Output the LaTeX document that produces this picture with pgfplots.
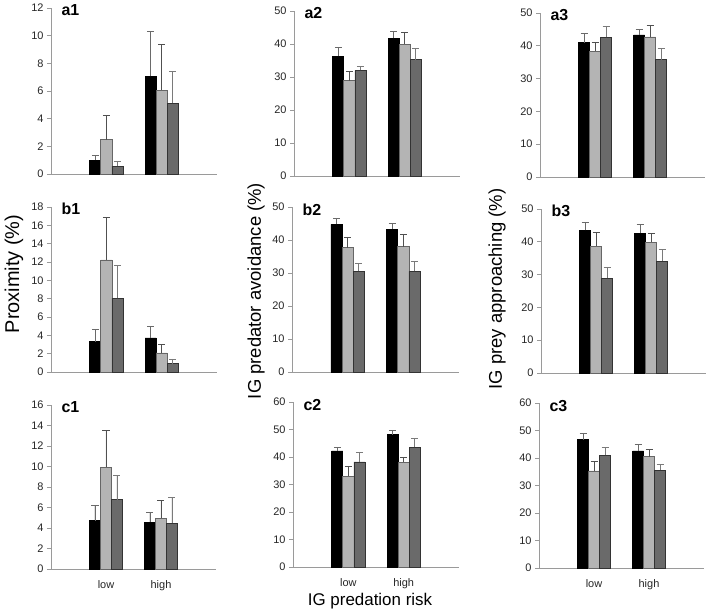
\documentclass[border=0pt]{standalone}
\usepackage{fontspec}
\setmainfont{Liberation Sans}
\usepackage{pgfplots}
\pgfplotsset{compat=1.18}
\definecolor{clight}{HTML}{B4B4B4}
\definecolor{cdark}{HTML}{6A6A6A}
\definecolor{axgray}{HTML}{9A9A9A}
\definecolor{errA}{HTML}{6A6A6A}
\definecolor{errB}{HTML}{505050}
\definecolor{errC}{HTML}{7A7A7A}
\tikzset{plab/.style={font=\fontsize{16}{18}\selectfont\bfseries, anchor=base west, xshift=7bp, yshift=-8bp}}
\pgfplotsset{
  panel/.style={
    scale only axis, anchor=south west,
    axis lines*=left, xmin=0, xmax=3, ymin=0,
    xtick=\empty,
    axis line style={draw=axgray, line width=0.9bp},
    tick align=outside, major tick length=4bp,
    ytick style={draw=axgray, line width=0.8bp},
    x tick style={draw=none},
    tick label style={font=\fontsize{11}{13}\selectfont, text=black!85},
    xticklabel style={yshift=-4bp},
    /pgf/number format/assume math mode=true,
    clip=false,
  },
  sA/.style={ybar, bar width=0.2, bar shift=0pt, fill=black, draw=black, line width=0.7bp,
    error bars/.cd, y dir=plus, y explicit,
    error bar style={draw=errA, line width=0.9bp},
    error mark options={draw=errA, mark size=3.5bp, line width=0.9bp, rotate=90}},
  sB/.style={ybar, bar width=0.2, bar shift=0pt, fill=clight, draw=black!60, line width=0.7bp,
    error bars/.cd, y dir=plus, y explicit,
    error bar style={draw=errB, line width=0.9bp},
    error mark options={draw=errB, mark size=3.5bp, line width=0.9bp, rotate=90}},
  sC/.style={ybar, bar width=0.2, bar shift=0pt, fill=cdark, draw=black!80, line width=0.7bp,
    error bars/.cd, y dir=plus, y explicit,
    error bar style={draw=errC, line width=0.9bp},
    error mark options={draw=errC, mark size=3.5bp, line width=0.9bp, rotate=90}},
}
\begin{document}
\begin{tikzpicture}
\path[use as bounding box] (0,0) rectangle (708bp,612bp);
% ---------- a1
\begin{axis}[panel, at={(51bp,438bp)}, width=166bp, height=166bp, ymax=12, ytick={0,2,...,12}]
\addplot[sA] coordinates {(0.8,1.00) +- (0,0.33) (1.8,7.05) +- (0,3.26)};
\addplot[sB] coordinates {(1.0,2.49) +- (0,1.74) (2.0,6.04) +- (0,3.31)};
\addplot[sC] coordinates {(1.2,0.56) +- (0,0.33) (2.2,5.10) +- (0,2.32)};
\node[plab] at (rel axis cs:0,1) {a1};
\end{axis}
% ---------- a2
\begin{axis}[panel, at={(294bp,436bp)}, width=166bp, height=165bp, ymax=50, ytick={0,10,...,50}]
\addplot[sA] coordinates {(0.8,36.3) +- (0,2.7) (1.8,41.7) +- (0,2.1)};
\addplot[sB] coordinates {(1.0,28.9) +- (0,2.8) (2.0,39.9) +- (0,3.5)};
\addplot[sC] coordinates {(1.2,32.0) +- (0,1.2) (2.2,35.3) +- (0,3.3)};
\node[plab] at (rel axis cs:0,1) {a2};
\end{axis}
% ---------- a3
\begin{axis}[panel, at={(540bp,435bp)}, width=165bp, height=164bp, ymax=50, ytick={0,10,...,50}]
\addplot[sA] coordinates {(0.8,40.9) +- (0,2.9) (1.8,43.3) +- (0,1.7)};
\addplot[sB] coordinates {(1.0,38.3) +- (0,2.8) (2.0,42.7) +- (0,3.6)};
\addplot[sC] coordinates {(1.2,42.6) +- (0,3.2) (2.2,35.8) +- (0,3.3)};
\node[plab] at (rel axis cs:0,1) {a3};
\end{axis}
% ---------- b1
\begin{axis}[panel, at={(51bp,240bp)}, width=166bp, height=165bp, ymax=18, ytick={0,2,...,18}]
\addplot[sA] coordinates {(0.8,3.29) +- (0,1.35) (1.8,3.72) +- (0,1.21)};
\addplot[sB] coordinates {(1.0,12.23) +- (0,4.60) (2.0,2.08) +- (0,0.88)};
\addplot[sC] coordinates {(1.2,8.03) +- (0,3.54) (2.2,0.91) +- (0,0.51)};
\node[plab] at (rel axis cs:0,1) {b1};
\end{axis}
% ---------- b2
\begin{axis}[panel, at={(292bp,240bp)}, width=167bp, height=165bp, ymax=50, ytick={0,10,...,50}]
\addplot[sA] coordinates {(0.8,44.7) +- (0,1.9) (1.8,43.3) +- (0,1.8)};
\addplot[sB] coordinates {(1.0,37.7) +- (0,3.2) (2.0,38.0) +- (0,3.6)};
\addplot[sC] coordinates {(1.2,30.5) +- (0,2.3) (2.2,30.5) +- (0,2.9)};
\node[plab] at (rel axis cs:0,1) {b2};
\end{axis}
% ---------- b3
\begin{axis}[panel, at={(541bp,239bp)}, width=165bp, height=164bp, ymax=50, ytick={0,10,...,50}]
\addplot[sA] coordinates {(0.8,43.5) +- (0,2.5) (1.8,42.6) +- (0,2.7)};
\addplot[sB] coordinates {(1.0,38.7) +- (0,4.1) (2.0,39.8) +- (0,2.8)};
\addplot[sC] coordinates {(1.2,28.9) +- (0,3.3) (2.2,34.1) +- (0,3.5)};
\node[plab] at (rel axis cs:0,1) {b3};
\end{axis}
% ---------- c1
\begin{axis}[panel, at={(51bp,43bp)}, width=165bp, height=164bp, ymax=16, ytick={0,2,...,16},
  xtick={1,2}, xticklabels={low,high}]
\addplot[sA] coordinates {(0.8,4.73) +- (0,1.46) (1.8,4.57) +- (0,0.97)};
\addplot[sB] coordinates {(1.0,9.94) +- (0,3.60) (2.0,4.96) +- (0,1.74)};
\addplot[sC] coordinates {(1.2,6.77) +- (0,2.33) (2.2,4.47) +- (0,2.49)};
\node[plab] at (rel axis cs:0,1) {c1};
\end{axis}
% ---------- c2
\begin{axis}[panel, at={(293bp,45bp)}, width=166bp, height=165bp, ymax=60, ytick={0,10,...,60},
  xtick={1,2}, xticklabels={low,high}]
\addplot[sA] coordinates {(0.8,42.2) +- (0,1.4) (1.8,48.1) +- (0,1.4)};
\addplot[sB] coordinates {(1.0,33.0) +- (0,3.7) (2.0,38.1) +- (0,1.9)};
\addplot[sC] coordinates {(1.2,38.2) +- (0,3.3) (2.2,43.6) +- (0,3.2)};
\node[plab] at (rel axis cs:0,1) {c2};
\end{axis}
% ---------- c3
\begin{axis}[panel, at={(539bp,44bp)}, width=165bp, height=165bp, ymax=60, ytick={0,10,...,60},
  xtick={1,2}, xticklabels={low,high}]
\addplot[sA] coordinates {(0.8,46.7) +- (0,2.1) (1.8,42.6) +- (0,2.2)};
\addplot[sB] coordinates {(1.0,35.3) +- (0,3.3) (2.0,40.5) +- (0,2.5)};
\addplot[sC] coordinates {(1.2,41.0) +- (0,2.9) (2.2,35.6) +- (0,1.9)};
\node[plab] at (rel axis cs:0,1) {c3};
\end{axis}
% ---------- axis titles
\node[rotate=90, font=\fontsize{20}{22}\selectfont] at (14bp,338bp) {Proximity (\%)};
\node[rotate=90, font=\fontsize{18.5}{21}\selectfont] at (256bp,321bp) {IG predator avoidance (\%)};
\node[rotate=90, font=\fontsize{18.5}{21}\selectfont] at (497bp,323bp) {IG prey approaching (\%)};
\node[font=\fontsize{17}{19}\selectfont] at (370bp,11bp) {IG predation risk};
\end{tikzpicture}
\end{document}
